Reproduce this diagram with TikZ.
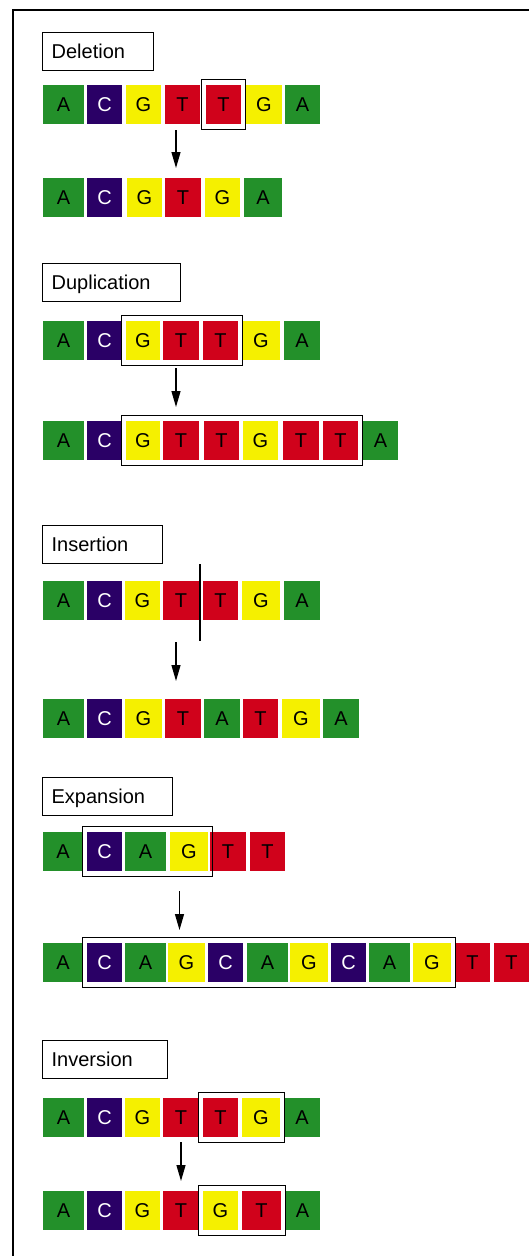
\documentclass[tikz,border=0pt]{standalone}
\usepackage{fontspec}
\setmainfont{Liberation Sans}
\usepackage{tikz}
\usetikzlibrary{arrows.meta,fit}

\definecolor{baseA}{HTML}{23902A}
\definecolor{baseC}{HTML}{2A0066}
\definecolor{baseG}{HTML}{F5F000}
\definecolor{baseT}{HTML}{D0021B}
\colorlet{textA}{black}
\colorlet{textC}{white}
\colorlet{textG}{black}
\colorlet{textT}{black}

\begin{document}
\begin{tikzpicture}[
        x=1pt,
        y=-1pt,
        font=\fontsize{20}{24}\selectfont,
        nucleo/.style={fill=base#1, text=text#1, minimum height=39pt, inner sep=0pt},
        labelbox/.style={draw, line width=1.3pt, anchor=north west, minimum height=38pt,
            inner xsep=9pt, inner ysep=0pt, text height=14.3pt, text depth=0pt, align=left},
        hilite/.style={draw, line width=1.5pt, inner xsep=4.5pt, inner ysep=5.5pt},
        arr/.style={-{Triangle[length=16pt,width=9pt]}, line width=1.3pt}
    ]
        \useasboundingbox (0,0) rectangle (529,1256);
        \draw[line width=2pt] (13,1270) -- (13,10) -- (545,10);

        % deletion
        \node[labelbox, text width=93pt] (del-title) at (42,32) {Deletion};
        \foreach \l/\r/\b [count=\i] in {43/84/A,87/122/C,126/161/G,165/200/T,206/241/T,246/282/G,285/320/A} {
            \node[nucleo=\b, minimum width={\r-\l}] (del1-\i) at ({(\l+\r)/2},104.5) {\b};
        }
        \foreach \l/\r/\b [count=\i] in {43/84/A,87/122/C,127/162/G,165/201/T,205/240/G,244/282/A} {
            \node[nucleo=\b, minimum width={\r-\l}] (del2-\i) at ({(\l+\r)/2},197.5) {\b};
        }
        \node[hilite, fit=(del1-5)] (del-mark) {};
        \coordinate (del-from) at (176,130);
        \coordinate (del-to) at (176,168);
        \draw[arr] (del-from) -- (del-to);

        % duplication
        \node[labelbox, text width=120pt] (dup-title) at (42,263) {Duplication};
        \foreach \l/\r/\b [count=\i] in {43/84/A,87/122/C,126/160/G,163/199/T,203/238/T,242/280/G,284/320/A} {
            \node[nucleo=\b, minimum width={\r-\l}] (dup1-\i) at ({(\l+\r)/2},340.5) {\b};
        }
        \foreach \l/\r/\b [count=\i] in {43/84/A,87/122/C,126/160/G,163/199/T,204/239/T,243/278/G,283/319/T,323/358/T,363/398/A} {
            \node[nucleo=\b, minimum width={\r-\l}] (dup2-\i) at ({(\l+\r)/2},440.5) {\b};
        }
        \node[hilite, fit=(dup1-3)(dup1-5)] (dup-mark1) {};
        \node[hilite, fit=(dup2-3)(dup2-8)] (dup-mark2) {};
        \coordinate (dup-from) at (176,368);
        \coordinate (dup-to) at (176,407);
        \draw[arr] (dup-from) -- (dup-to);

        % insertion
        \node[labelbox, text width=102pt] (ins-title) at (42,525) {Insertion};
        \foreach \l/\r/\b [count=\i] in {43/84/A,87/122/C,125/160/G,163/199/T,203/238/T,242/280/G,284/320/A} {
            \node[nucleo=\b, minimum width={\r-\l}] (ins1-\i) at ({(\l+\r)/2},600.5) {\b};
        }
        \foreach \l/\r/\b [count=\i] in {43/84/A,87/122/C,125/162/G,165/201/T,204/240/A,243/278/T,282/320/G,323/359/A} {
            \node[nucleo=\b, minimum width={\r-\l}] (ins2-\i) at ({(\l+\r)/2},718.5) {\b};
        }
        \coordinate (ins-cut1) at (200,564);
        \coordinate (ins-cut2) at (200,641);
        \draw[line width=1.2pt] (ins-cut1) -- (ins-cut2);
        \coordinate (ins-from) at (176,642);
        \coordinate (ins-to) at (176,681);
        \draw[arr] (ins-from) -- (ins-to);

        % expansion
        \node[labelbox, text width=112pt] (exp-title) at (42,777) {Expansion};
        \foreach \l/\r/\b [count=\i] in {43/83/A,87/122/C,125/166/A,170/208/G,210/246/T,250/285/T} {
            \node[nucleo=\b, minimum width={\r-\l}] (exp1-\i) at ({(\l+\r)/2},851.5) {\b};
        }
        \foreach \l/\r/\b [count=\i] in {43/83/A,87/122/C,125/166/A,168/205/G,208/243/C,247/288/A,290/328/G,331/366/C,369/410/A,413/451/G,455/490/T,494/529/T} {
            \node[nucleo=\b, minimum width={\r-\l}] (exp2-\i) at ({(\l+\r)/2},962.5) {\b};
        }
        \node[hilite, fit=(exp1-2)(exp1-4)] (exp-mark1) {};
        \node[hilite, fit=(exp2-2)(exp2-10)] (exp-mark2) {};
        \coordinate (exp-from) at (179.5,891);
        \coordinate (exp-to) at (179.5,930);
        \draw[arr] (exp-from) -- (exp-to);

        % inversion
        \node[labelbox, text width=107pt] (inv-title) at (42,1040) {Inversion};
        \foreach \l/\r/\b [count=\i] in {43/84/A,87/122/C,125/160/G,163/199/T,203/238/T,242/280/G,284/320/A} {
            \node[nucleo=\b, minimum width={\r-\l}] (inv1-\i) at ({(\l+\r)/2},1117.5) {\b};
        }
        \foreach \l/\r/\b [count=\i] in {43/84/A,87/122/C,125/160/G,163/199/T,203/238/G,242/281/T,285/320/A} {
            \node[nucleo=\b, minimum width={\r-\l}] (inv2-\i) at ({(\l+\r)/2},1210.5) {\b};
        }
        \node[hilite, fit=(inv1-5)(inv1-6)] (inv-mark1) {};
        \node[hilite, fit=(inv2-5)(inv2-6)] (inv-mark2) {};
        \coordinate (inv-from) at (181,1142);
        \coordinate (inv-to) at (181,1181);
        \draw[arr] (inv-from) -- (inv-to);
    \end{tikzpicture}
\end{document}
